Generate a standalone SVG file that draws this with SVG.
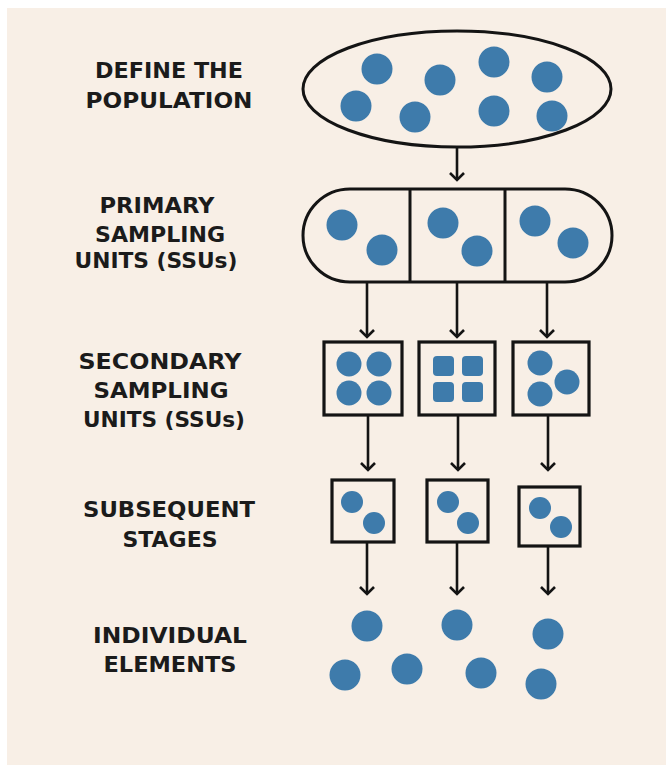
<svg xmlns="http://www.w3.org/2000/svg" width="666" height="765" viewBox="0 0 666 765">
  <style>
    .label { font-family: "DejaVu Sans", "Liberation Sans", sans-serif; font-weight: 700; font-size: 22px; fill: #1b1b1b; text-anchor: middle; }
    .shape { fill: none; stroke: #141414; stroke-width: 3; }
    .box { fill: none; stroke: #141414; stroke-width: 3.2; }
    .dot { fill: #3e7bab; }
    .link { fill: none; stroke: #141414; stroke-width: 2.6; marker-end: url(#chev); }
  </style>
  <defs>
    <marker id="chev" markerUnits="userSpaceOnUse" viewBox="-8 -8 16 10" refX="0" refY="0" markerWidth="16" markerHeight="10" orient="auto-start-reverse" overflow="visible">
      <path d="M -7 -7 L 0 0 L 7 -7" fill="none" stroke="#141414" stroke-width="2.6" transform="rotate(-90)"/>
    </marker>
  </defs>

  <!-- page -->
  <rect x="0" y="0" width="666" height="765" fill="#ffffff"/>
  <rect x="7" y="8" width="659" height="757" fill="#f8efe6"/>

  <!-- stage labels -->
  <g id="labels">
    <text class="label" x="169" y="78" textLength="148" lengthAdjust="spacingAndGlyphs">DEFINE THE</text>
    <text class="label" x="169" y="108" textLength="167" lengthAdjust="spacingAndGlyphs">POPULATION</text>

    <text class="label" x="157" y="213" textLength="115" lengthAdjust="spacingAndGlyphs">PRIMARY</text>
    <text class="label" x="160" y="242" textLength="130" lengthAdjust="spacingAndGlyphs">SAMPLING</text>
    <text class="label" x="156" y="268" textLength="163" lengthAdjust="spacingAndGlyphs">UNITS (SSUs)</text>

    <text class="label" x="160" y="369" textLength="163" lengthAdjust="spacingAndGlyphs">SECONDARY</text>
    <text class="label" x="161" y="398" textLength="135" lengthAdjust="spacingAndGlyphs">SAMPLING</text>
    <text class="label" x="164" y="427" textLength="162" lengthAdjust="spacingAndGlyphs">UNITS (SSUs)</text>

    <text class="label" x="169" y="517" textLength="172" lengthAdjust="spacingAndGlyphs">SUBSEQUENT</text>
    <text class="label" x="170" y="547" textLength="95" lengthAdjust="spacingAndGlyphs">STAGES</text>

    <text class="label" x="170" y="643" textLength="154" lengthAdjust="spacingAndGlyphs">INDIVIDUAL</text>
    <text class="label" x="170" y="672" textLength="133" lengthAdjust="spacingAndGlyphs">ELEMENTS</text>
  </g>

  <!-- population -->
  <g id="population">
    <ellipse class="shape" cx="457" cy="89" rx="154" ry="58"/>
    <circle class="dot" cx="377" cy="69" r="15.5"/>
    <circle class="dot" cx="440" cy="80" r="15.5"/>
    <circle class="dot" cx="494" cy="62" r="15.5"/>
    <circle class="dot" cx="547" cy="77" r="15.5"/>
    <circle class="dot" cx="356" cy="106" r="15.5"/>
    <circle class="dot" cx="415" cy="117" r="15.5"/>
    <circle class="dot" cx="494" cy="111" r="15.5"/>
    <circle class="dot" cx="552" cy="116" r="15.5"/>
  </g>

  <!-- primary sampling units -->
  <g id="psu">
    <rect class="shape" x="303" y="189" width="309" height="93" rx="47" ry="47"/>
    <line class="shape" x1="410" y1="189" x2="410" y2="282"/>
    <line class="shape" x1="505" y1="189" x2="505" y2="282"/>
    <circle class="dot" cx="342" cy="225" r="15.5"/>
    <circle class="dot" cx="382" cy="250" r="15.5"/>
    <circle class="dot" cx="443" cy="223" r="15.5"/>
    <circle class="dot" cx="477" cy="251" r="15.5"/>
    <circle class="dot" cx="535" cy="221" r="15.5"/>
    <circle class="dot" cx="573" cy="243" r="15.5"/>
  </g>

  <!-- secondary sampling units -->
  <g id="ssu-1">
    <rect class="box" x="324" y="342" width="78" height="73"/>
    <circle class="dot" cx="349" cy="364" r="12.5"/>
    <circle class="dot" cx="379" cy="364" r="12.5"/>
    <circle class="dot" cx="349" cy="393" r="12.5"/>
    <circle class="dot" cx="379" cy="393" r="12.5"/>
  </g>
  <g id="ssu-2">
    <rect class="box" x="419" y="342" width="76" height="73"/>
    <rect class="dot" x="433" y="356" width="21" height="20" rx="4"/>
    <rect class="dot" x="462" y="356" width="21" height="20" rx="4"/>
    <rect class="dot" x="433" y="382" width="21" height="20" rx="4"/>
    <rect class="dot" x="462" y="382" width="21" height="20" rx="4"/>
  </g>
  <g id="ssu-3">
    <rect class="box" x="513" y="342" width="76" height="73"/>
    <circle class="dot" cx="540" cy="363" r="12.5"/>
    <circle class="dot" cx="567" cy="382" r="12.5"/>
    <circle class="dot" cx="540" cy="394" r="12.5"/>
  </g>

  <!-- subsequent stages -->
  <g id="stage-1">
    <rect class="box" x="332" y="480" width="62" height="62"/>
    <circle class="dot" cx="352" cy="502" r="11"/>
    <circle class="dot" cx="374" cy="523" r="11"/>
  </g>
  <g id="stage-2">
    <rect class="box" x="427" y="480" width="61" height="62"/>
    <circle class="dot" cx="448" cy="502" r="11"/>
    <circle class="dot" cx="468" cy="523" r="11"/>
  </g>
  <g id="stage-3">
    <rect class="box" x="519" y="487" width="61" height="59"/>
    <circle class="dot" cx="540" cy="508" r="11"/>
    <circle class="dot" cx="561" cy="527" r="11"/>
  </g>

  <!-- individual elements -->
  <g id="elements">
    <circle class="dot" cx="367" cy="626" r="15.5"/>
    <circle class="dot" cx="457" cy="625" r="15.5"/>
    <circle class="dot" cx="548" cy="634" r="15.5"/>
    <circle class="dot" cx="345" cy="675" r="15.5"/>
    <circle class="dot" cx="407" cy="669" r="15.5"/>
    <circle class="dot" cx="481" cy="673" r="15.5"/>
    <circle class="dot" cx="541" cy="684" r="15.5"/>
  </g>

  <!-- connectors -->
  <g id="connectors">
    <line class="link" x1="457" y1="147" x2="457" y2="180"/>
    <line class="link" x1="367" y1="282" x2="367" y2="337"/>
    <line class="link" x1="457" y1="282" x2="457" y2="337"/>
    <line class="link" x1="547" y1="282" x2="547" y2="337"/>
    <line class="link" x1="368" y1="415" x2="368" y2="470"/>
    <line class="link" x1="458" y1="415" x2="458" y2="470"/>
    <line class="link" x1="548" y1="415" x2="548" y2="470"/>
    <line class="link" x1="367" y1="542" x2="367" y2="594"/>
    <line class="link" x1="457" y1="542" x2="457" y2="594"/>
    <line class="link" x1="548" y1="546" x2="548" y2="594"/>
  </g>
</svg>
